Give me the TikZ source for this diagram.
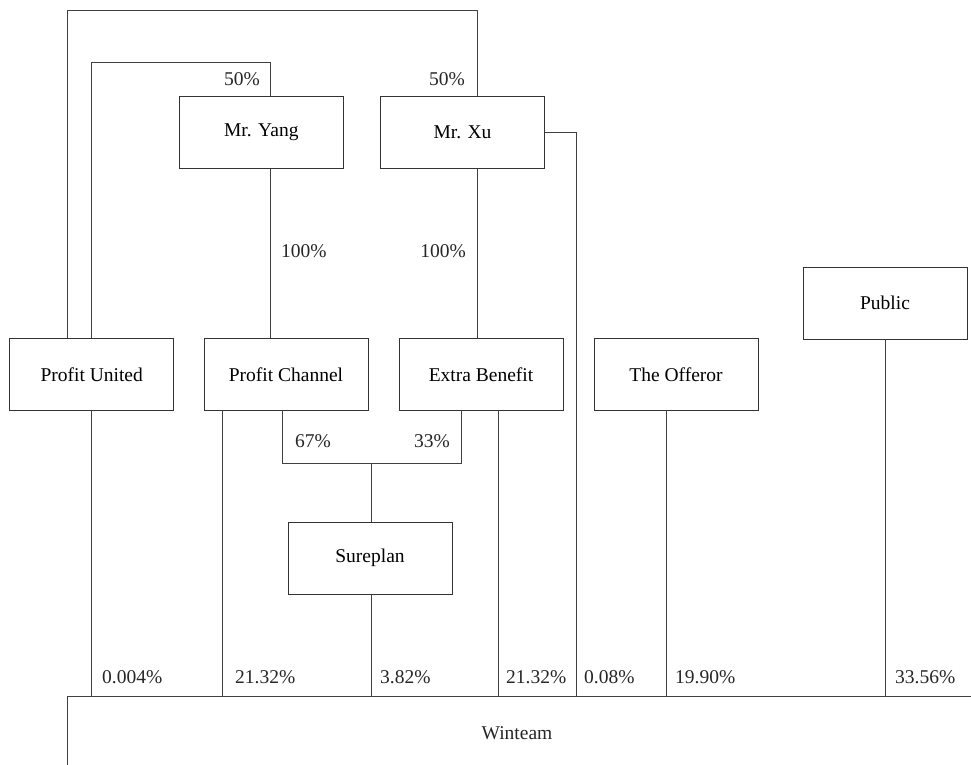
\documentclass[tikz,border=0pt]{standalone}
\usepackage{fontspec}
\setmainfont{Liberation Serif}
\usepackage{tikz}
\usetikzlibrary{positioning}

\tikzset{
    box/.style={draw=black!80, line width=0.9pt, minimum width=164pt, minimum height=72pt, inner sep=0pt},
    pct/.style={inner sep=0pt, text=black!85},
    link/.style={draw=black!75, line width=0.9pt}
}

\begin{document}
\begin{tikzpicture}[x=1pt, y=-1pt, font=\fontsize{19.5}{23}\selectfont]
        \useasboundingbox (0,0) rectangle (971,765);
        % Boxes
        \node[box] (yang) at (261.3,132.3) {Mr. Yang};
        \node[box] (xu) at (462.5,132.3) {Mr. Xu};
        \node[box] (pu) at (91.7,374.7) {Profit United};
        \node[box] (pc) at (286,374.7) {Profit Channel};
        \node[box] (eb) at (481,374.7) {Extra Benefit};
        \node[box] (off) at (676,374.7) {The Offeror};
        \node[box] (pub) at (885,303) {Public};
        \node[box] (sure) at (370,558.3) {Sureplan};
        % Winteam (open box)
        \node[pct] (win) at (517,733) {Winteam};
        \coordinate (wtl) at (67.3,696.7);
        \coordinate (wtr) at (971,696.7);
        \coordinate (wtb) at (67.3,765);
        \draw[link] (wtb) -- (wtl) -- (wtr);
        % Lines to the owners
        \draw[link] ([xshift=-24.4]pu.north) -- ++(0,-327.7) -| ([xshift=14.5]xu.north);
        \draw[link] (pu.north) -- ++(0,-276.2) -| ([xshift=9.4]yang.north);
        \draw[link] ([xshift=9.4]yang.south) -- ([xshift=9.4]yang.south |- pc.north);
        \draw[link] ([xshift=14.5]xu.south) -- ([xshift=14.5]xu.south |- eb.north);
        \draw[link] (pc.south) ++(-4,0) -- ++(0,52.3) -| ([xshift=-20]eb.south);
        \draw[link] ([xshift=1]sure.north) -- ++(0,-59.3);
        % Lines down to Winteam
        \draw[link] (xu.east) -| ([xshift=31.5]xu.east |- wtl);
        \draw[link] (pu.south) -- (pu.south |- wtl);
        \draw[link] ([xshift=-64]pc.south) -- ([xshift=-64]pc.south |- wtl);
        \draw[link] ([xshift=1]sure.south) -- ([xshift=1]sure.south |- wtl);
        \draw[link] ([xshift=17.7]eb.south) -- ([xshift=17.7]eb.south |- wtl);
        \draw[link] ([xshift=-10]off.south) -- ([xshift=-10]off.south |- wtl);
        \draw[link] ([xshift=0.7]pub.south) -- ([xshift=0.7]pub.south |- wtl);
        % Labels
        \node[pct, anchor=east] (pyang) at (260,79) {50\%};
        \node[pct, anchor=east] (pxu) at (465,79) {50\%};
        \node[pct, anchor=west] (pcy) at (281,251) {100\%};
        \node[pct, anchor=east] (pcx) at (466,251) {100\%};
        \node[pct, anchor=west] (spc) at (295,441) {67\%};
        \node[pct, anchor=east] (seb) at (450,441) {33\%};
        \node[pct, anchor=west] (wpu) at (102,677) {0.004\%};
        \node[pct, anchor=west] (wpc) at (235,677) {21.32\%};
        \node[pct, anchor=west] (wsu) at (380,677) {3.82\%};
        \node[pct, anchor=west] (web) at (506,677) {21.32\%};
        \node[pct, anchor=west] (wxu) at (584,677) {0.08\%};
        \node[pct, anchor=west] (wof) at (675,677) {19.90\%};
        \node[pct, anchor=west] (wpb) at (895,677) {33.56\%};
\end{tikzpicture}
\end{document}
